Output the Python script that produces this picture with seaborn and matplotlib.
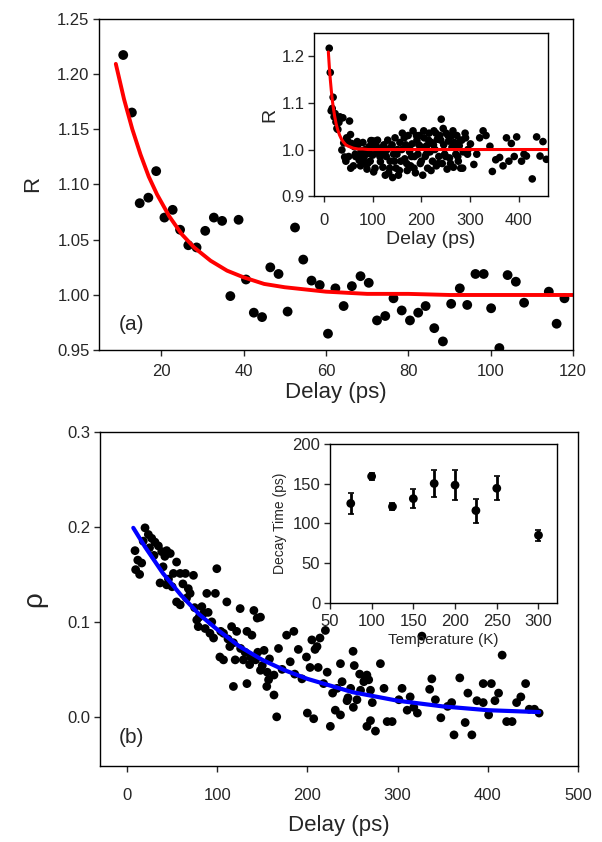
import seaborn as sns
import pandas as pd
import matplotlib.pyplot as plt

sns.set_style('ticks')
plt.rcParams['font.family'] = ['Liberation Sans', 'DejaVu Sans']

# panel (a): ratio R vs delay, first 120 ps
delay_a = [10.8, 12.9, 14.8, 16.9, 18.8, 20.8, 22.8, 24.6, 26.6, 28.6,
           30.7, 32.8, 34.8, 36.8, 38.8, 40.6, 42.5, 44.5, 46.5, 48.5,
           50.7, 52.5, 54.5, 56.5, 58.5, 60.5, 62.3, 64.3, 66.3, 68.4,
           70.4, 72.4, 74.4, 76.4, 78.4, 80.4, 82.4, 84.2, 86.3, 88.4,
           90.4, 92.5, 94.3, 96.3, 98.3, 100.1, 102.1, 104.1, 106.1, 108.1,
           114.1, 116.0, 117.9]
r_a = [1.217, 1.165, 1.083, 1.088, 1.112, 1.070, 1.077, 1.059, 1.045, 1.043,
       1.058, 1.070, 1.067, 0.999, 1.068, 1.014, 0.984, 0.980, 1.025, 1.019,
       0.985, 1.061, 1.032, 1.013, 1.009, 0.965, 1.006, 0.990, 1.008, 1.017,
       1.011, 0.977, 0.981, 0.997, 0.986, 0.977, 0.984, 0.990, 0.970, 0.958,
       0.992, 1.006, 0.991, 1.019, 1.019, 0.988, 0.952, 1.018, 1.012, 0.993,
       1.003, 0.974, 0.997]

# remaining points, only shown in the inset
delay_long = [121, 123, 126, 128, 131, 133, 136, 138, 141, 143,
              146, 148, 151, 153, 156, 158, 161, 163, 166, 168,
              171, 173, 176, 178, 181, 183, 186, 188, 191, 193,
              196, 198, 201, 203, 206, 208, 211, 213, 216, 218,
              221, 223, 226, 228, 231, 233, 236, 238, 241, 243,
              246, 248, 251, 253, 256, 258, 261, 263, 266, 268,
              271, 273, 276, 278, 281, 283, 286, 291, 296,
              301, 308, 314, 320, 327, 333, 341, 346, 353, 361,
              368, 375, 380, 385, 391, 396, 406, 411, 416, 428,
              437, 444, 450, 457,
              45, 55, 65, 75, 80, 85, 90, 95, 100, 105,
              110, 115, 125, 130, 135, 140, 145, 150, 155, 160,
              165, 170, 175, 180, 185, 190, 195, 200, 205, 210,
              215, 220, 225, 230, 235, 240, 245, 250, 255, 260,
              265, 270, 275, 280, 285, 290, 295]
r_long = [0.962, 1.010, 0.945, 0.985, 1.020, 0.950, 0.975, 1.005, 0.940, 0.990,
          1.025, 0.960, 1.000, 0.945, 1.015, 0.975, 1.035, 1.069, 0.980, 1.010,
          0.955, 1.030, 0.995, 0.965, 1.012, 1.040, 0.985, 0.950, 1.020, 0.990,
          1.030, 0.970, 1.005, 0.945, 1.025, 0.985, 1.008, 0.960, 1.035, 0.995,
          1.015, 0.975, 1.040, 1.000, 0.965, 1.022, 0.985, 1.030, 1.065, 0.970,
          1.010, 0.990, 1.035, 0.958, 1.018, 0.982, 1.028, 1.005, 0.962, 1.015,
          0.990, 1.030, 0.975, 1.008, 0.960, 1.020, 0.995, 1.025, 1.000,
          1.012, 0.968, 0.990, 1.025, 1.040, 1.030, 1.007, 0.953, 0.978, 0.983,
          0.965, 1.025, 0.975, 1.013, 0.985, 1.027, 0.975, 0.990, 0.986, 0.937,
          1.027, 0.986, 1.017, 0.979,
          0.975, 0.960, 0.985, 0.965, 1.015, 1.000, 0.970, 0.975, 1.005, 0.960,
          1.020, 0.985, 0.990, 1.000, 0.960, 1.010, 0.975, 0.990, 0.955, 1.000,
          1.025, 0.970, 1.005, 0.985, 0.960, 1.030, 1.010, 0.975, 1.040, 0.990,
          1.020, 0.955, 1.010, 1.035, 0.970, 1.020, 1.045, 0.985, 1.030, 0.970,
          1.040, 1.010, 0.985, 1.020, 0.960, 1.035, 0.990]

# red fit curve
fit_a_delay = [9, 11, 13, 15, 17, 19, 22, 25, 28, 32, 36, 40, 45, 50, 55, 60,
               70, 80, 90, 120, 200, 300, 400, 460]
fit_a_r = [1.209, 1.177, 1.150, 1.127, 1.107, 1.091, 1.071, 1.055, 1.043, 1.031,
           1.022, 1.016, 1.010, 1.007, 1.005, 1.003, 1.001, 1.001, 1.000, 1.000,
           1.000, 1.000, 1.000, 1.000]

# panel (b): rho vs delay
delay_b = [8.9, 9.6, 12, 16.3, 14, 20, 23.7, 27.4, 31, 34.8,
           38.5, 42, 44, 48, 36.7, 44, 50, 55, 51.5, 59,
           64.8, 73.7, 55, 59, 68, 70, 88.5, 98, 99.6, 83,
           85, 77.4, 79, 86.7, 92, 96, 110.7, 107, 114, 103,
           107, 120, 116, 121.6, 125.5, 129, 133, 138.5, 140.7, 144.4,
           148, 137, 142.6, 118, 133, 148, 150, 155.5, 157, 163,
           155, 163, 166, 177, 185, 181, 190, 199, 203, 212,
           214, 220, 208.5, 200, 207, 210.7, 205, 225.5, 231, 236.7,
           236.7, 244, 238.5, 245, 251, 250.7, 252, 255, 259, 262.6,
           266, 264, 268, 270, 266, 275.5, 270, 281, 288.5, 294,
           301.5, 310.7, 314, 322, 327, 335.6, 342, 348, 355.5, 362.6,
           369, 375, 382.4, 388, 395, 404, 401, 408, 416, 421,
           427, 436.7, 446, 451.8, 457,
           18, 25, 30, 40, 46, 62, 66, 75, 80, 90,
           94, 104, 112, 118, 126, 131, 136, 145, 152, 158,
           168, 172, 186, 194, 218, 222, 228, 233, 248, 258,
           272, 285, 305, 318, 338, 360, 378, 395, 412, 432,
           442]
rho_b = [0.175, 0.155, 0.165, 0.162, 0.150, 0.199, 0.192, 0.188, 0.184, 0.180,
         0.174, 0.169, 0.175, 0.172, 0.141, 0.139, 0.137, 0.163, 0.151, 0.151,
         0.151, 0.149, 0.121, 0.118, 0.135, 0.130, 0.130, 0.130, 0.156, 0.116,
         0.109, 0.102, 0.095, 0.093, 0.088, 0.083, 0.121, 0.088, 0.074, 0.063,
         0.060, 0.060, 0.095, 0.090, 0.114, 0.060, 0.090, 0.086, 0.112, 0.104,
         0.105, 0.063, 0.060, 0.032, 0.035, 0.049, 0.054, 0.047, 0.039, 0.044,
         0.032, 0.023, 0.000, 0.086, 0.090, 0.058, 0.071, 0.063, 0.052, 0.052,
         0.083, 0.091, 0.071, 0.004, -0.002, 0.074, 0.081, -0.010, 0.007, 0.002,
         0.056, 0.017, 0.037, 0.020, 0.010, 0.069, 0.054, 0.018, 0.028, 0.037,
         0.044, 0.039, 0.039, 0.028, -0.010, -0.015, -0.004, 0.056, -0.005, -0.005,
         0.018, 0.007, 0.021, 0.004, 0.085, 0.029, 0.018, -0.001, 0.011, -0.019,
         0.041, -0.006, -0.019, 0.017, 0.035, 0.035, 0.002, 0.017, 0.065, -0.005,
         -0.005, 0.021, 0.008, 0.008, 0.004,
         0.185, 0.178, 0.170, 0.158, 0.145, 0.140, 0.125, 0.115, 0.105, 0.110,
         0.100, 0.090, 0.082, 0.078, 0.072, 0.068, 0.055, 0.068, 0.070, 0.061,
         0.072, 0.050, 0.045, 0.040, 0.035, 0.047, 0.025, 0.030, 0.030, 0.045,
         0.015, 0.030, 0.030, 0.010, 0.040, 0.015, 0.025, 0.015, 0.025, 0.015,
         0.035]

# blue fit curve
fit_b_delay = [7, 20, 40, 60, 80, 100, 125, 150, 175, 200, 250, 300, 350, 400, 457]
fit_b_rho = [0.199, 0.179, 0.151, 0.128, 0.108, 0.092, 0.074, 0.060, 0.049, 0.040,
             0.026, 0.017, 0.011, 0.007, 0.005]

# inset (b): decay time vs temperature
temperature = [75, 100, 125, 150, 175, 200, 225, 250, 300]
decay_time = [125, 159, 121, 131, 150, 148, 116, 144, 85]
decay_err = [13, 4, 4, 12, 17, 19, 15, 15, 7]

df_a = pd.DataFrame({'Delay': delay_a, 'R': r_a})
df_all = pd.DataFrame({'Delay': delay_a + delay_long, 'R': r_a + r_long})
df_fit_a = pd.DataFrame({'Delay': fit_a_delay, 'R': fit_a_r})
df_b = pd.DataFrame({'Delay': delay_b, 'rho': rho_b})
df_fit_b = pd.DataFrame({'Delay': fit_b_delay, 'rho': fit_b_rho})
df_t = pd.DataFrame({'T': temperature, 'tau': decay_time, 'err': decay_err})

fig = plt.figure(figsize=(6.02, 8.42), dpi=100)


def style_axes(ax, size):
    for s in ax.spines.values():
        s.set_linewidth(1.0)
        s.set_color('black')
    ax.tick_params(direction='out', length=4, width=1, labelsize=size,
                   top=False, right=False, pad=3)


# ---- panel (a) ----
ax1 = fig.add_axes([0.165, 0.584, 0.787, 0.394])
sns.scatterplot(data=df_a, x='Delay', y='R', ax=ax1, color='black',
                s=50, edgecolor='none', legend=False)
fit_main = df_fit_a[df_fit_a['Delay'] <= 120]
sns.lineplot(data=fit_main, x='Delay', y='R', ax=ax1, color='red',
             linewidth=2.8, sort=False)
ax1.set_xlim(5, 120)
ax1.set_ylim(0.95, 1.25)
ax1.set_xticks([20, 40, 60, 80, 100, 120])
ax1.set_yticks([0.95, 1.00, 1.05, 1.10, 1.15, 1.20, 1.25])
ax1.set_yticklabels(['%.2f' % v for v in [0.95, 1.00, 1.05, 1.10, 1.15, 1.20, 1.25]])
style_axes(ax1, 12)
ax1.tick_params(axis='x', pad=6)
ax1.set_xlabel('Delay (ps)', fontsize=16, labelpad=2)
ax1.set_ylabel('R', fontsize=16, labelpad=10)
ax1.text(0.04, 0.06, '(a)', transform=ax1.transAxes, fontsize=15)

# inset (a)
axi1 = fig.add_axes([0.522, 0.767, 0.388, 0.194])
sns.scatterplot(data=df_all, x='Delay', y='R', ax=axi1, color='black',
                s=30, edgecolor='none', legend=False)
sns.lineplot(data=df_fit_a, x='Delay', y='R', ax=axi1, color='red',
             linewidth=2.2, sort=False)
axi1.set_xlim(-20, 460)
axi1.set_ylim(0.9, 1.25)
axi1.set_xticks([0, 100, 200, 300, 400])
axi1.set_yticks([0.9, 1.0, 1.1, 1.2])
axi1.set_yticklabels(['0.9', '1.0', '1.1', '1.2'])
style_axes(axi1, 12)
axi1.tick_params(axis='x', pad=8)
axi1.set_xlabel('Delay (ps)', fontsize=14, labelpad=2)
axi1.set_ylabel('R', fontsize=14, labelpad=2)

# ---- panel (b) ----
ax2 = fig.add_axes([0.166, 0.090, 0.794, 0.397])
sns.scatterplot(data=df_b, x='Delay', y='rho', ax=ax2, color='black',
                s=40, edgecolor='none', legend=False)
sns.lineplot(data=df_fit_b, x='Delay', y='rho', ax=ax2, color='blue',
             linewidth=3, sort=False)
ax2.set_xlim(-30, 500)
ax2.set_ylim(-0.052, 0.3)
ax2.set_xticks([0, 100, 200, 300, 400, 500])
ax2.set_yticks([0.0, 0.1, 0.2, 0.3])
ax2.set_yticklabels(['0.0', '0.1', '0.2', '0.3'])
style_axes(ax2, 12)
ax2.tick_params(axis='x', pad=12)
ax2.set_xlabel('Delay (ps)', fontsize=16, labelpad=8)
ax2.set_ylabel('\u03c1', fontsize=20, labelpad=14)
ax2.text(0.04, 0.07, '(b)', transform=ax2.transAxes, fontsize=15)

# inset (b)
axi2 = fig.add_axes([0.548, 0.284, 0.377, 0.189])
axi2.errorbar(df_t['T'], df_t['tau'], yerr=df_t['err'], fmt='none',
              ecolor='black', elinewidth=2, capsize=2.5, capthick=1.2)
sns.scatterplot(data=df_t, x='T', y='tau', ax=axi2, color='black',
                s=40, edgecolor='none', legend=False)
axi2.set_xlim(50, 322)
axi2.set_ylim(0, 200)
axi2.set_xticks([50, 100, 150, 200, 250, 300])
axi2.set_yticks([0, 50, 100, 150, 200])
style_axes(axi2, 12)
axi2.tick_params(axis='x', pad=4)
axi2.set_xlabel('Temperature (K)', fontsize=11, labelpad=3)
axi2.set_ylabel('Decay Time (ps)', fontsize=10, labelpad=4)

fig.savefig('out.png', dpi=100)
